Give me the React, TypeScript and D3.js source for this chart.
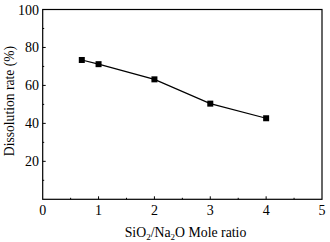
import React from "react";
import * as d3 from "d3";

const ratios = [0.7, 1, 2, 3, 4];
const rates = [73.4, 71.2, 63.2, 50.4, 42.7];
const xTicks = [0, 1, 2, 3, 4, 5];
const yTicks = [20, 40, 60, 80, 100];
const xMinor = [0.5, 1.5, 2.5, 3.5, 4.5];
const yMinor = [10, 30, 50, 70, 90];

export default function App() {
  const W = 330, H = 242;
  const m = { l: 42.7, r: 322, t: 9.5, b: 199.3 };
  const x = d3.scaleLinear().domain([0, 5]).range([m.l, m.r]);
  const y = d3.scaleLinear().domain([0, 100]).range([m.b, m.t]);
  const line = d3.line<number>().x((_, i) => x(ratios[i])).y((d) => y(d));
  const font = "'Liberation Serif', 'Times New Roman', serif";
  return (
    <svg width={W} height={H} style={{ position: "absolute", left: 0, top: 0, background: "#fff" }}>
      <rect x={m.l} y={m.t} width={m.r - m.l} height={m.b - m.t} fill="none" stroke="#000" strokeWidth={1.2} />
      {xTicks.slice(1, -1).map((t) => (
        <line key={"xt" + t} x1={x(t)} x2={x(t)} y1={m.b} y2={m.b - 3} stroke="#000" strokeWidth={1} />
      ))}
      {xMinor.map((t) => (
        <line key={"xm" + t} x1={x(t)} x2={x(t)} y1={m.b} y2={m.b - 1.5} stroke="#000" strokeWidth={1} />
      ))}
      {yTicks.slice(0, -1).map((t) => (
        <line key={"yt" + t} x1={m.l} x2={m.l + 3} y1={y(t)} y2={y(t)} stroke="#000" strokeWidth={1} />
      ))}
      {yMinor.map((t) => (
        <line key={"ym" + t} x1={m.l} x2={m.l + 1.5} y1={y(t)} y2={y(t)} stroke="#000" strokeWidth={1} />
      ))}
      {xTicks.map((t) => (
        <text key={"xl" + t} x={x(t)} y={214.5} textAnchor="middle" fontFamily={font} fontSize={14} fill="#000">
          {t}
        </text>
      ))}
      {yTicks.map((t) => (
        <text key={"yl" + t} x={39} y={y(t) + 5} textAnchor="end" fontFamily={font} fontSize={14} fill="#000">
          {t}
        </text>
      ))}
      <path d={line(rates) || ""} fill="none" stroke="#000" strokeWidth={1.2} />
      {rates.map((v, i) => (
        <rect key={"p" + i} x={x(ratios[i]) - 3} y={y(v) - 3} width={6} height={6} fill="#000" />
      ))}
      <text x={185.5} y={236.5} textAnchor="middle" fontFamily={font} fontSize={13.8} fill="#000">
        SiO<tspan fontSize={9} dy={3}>2</tspan>
        <tspan dy={-3}>/Na</tspan>
        <tspan fontSize={9} dy={3}>2</tspan>
        <tspan dy={-3}>O Mole ratio</tspan>
      </text>
      <text
        transform={`translate(14, 101) rotate(-90)`}
        textAnchor="middle"
        fontFamily={font}
        fontSize={13.6}
        fill="#000"
      >
        Dissolution rate (%)
      </text>
    </svg>
  );
}
